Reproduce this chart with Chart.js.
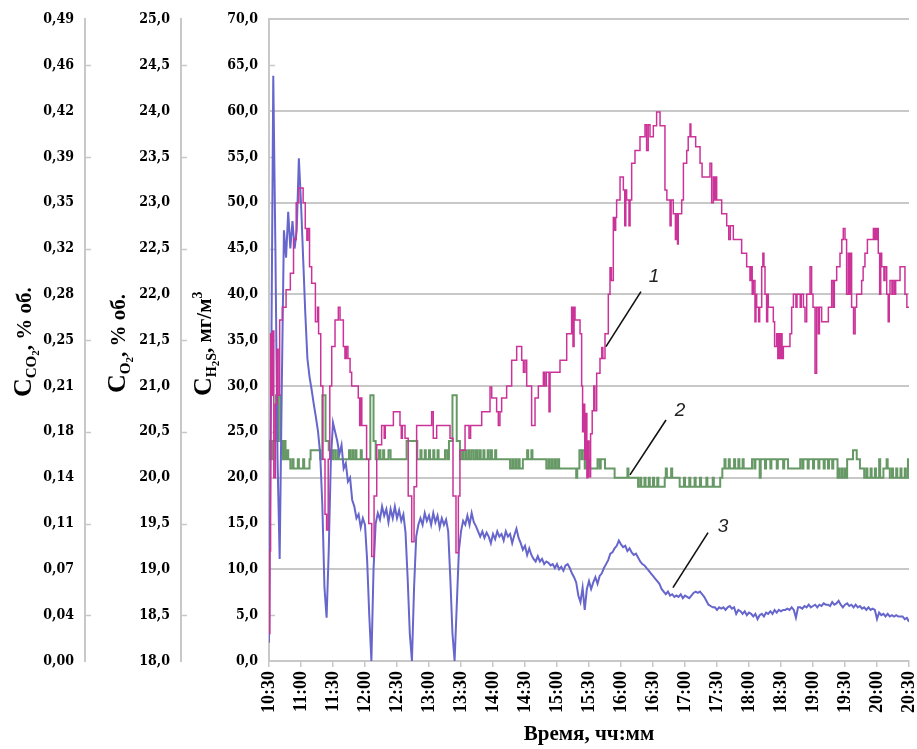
<!DOCTYPE html>
<html>
<head>
<meta charset="utf-8">
<script src="https://cdn.jsdelivr.net/npm/chart.js@4.4.0/dist/chart.umd.min.js"></script>
<style>
  body { margin: 0; background: #fff; }
  #wrap { width: 917px; height: 749px; }
</style>
</head>
<body>
<div id="wrap"><canvas id="chart" width="917" height="749"></canvas></div>
<script>
// time axis: minutes after 10:30
const xTickLabels = ["10:30", "11:00", "11:30", "12:00", "12:30", "13:00", "13:30", "14:00", "14:30", "15:00",
  "15:30", "16:00", "16:30", "17:00", "17:30", "18:00", "18:30", "19:00", "19:30", "20:00", "20:30"];

const co2TickLabels = ["0,00", "0,04", "0,07", "0,11", "0,14", "0,18", "0,21", "0,25", "0,28", "0,32", "0,35", "0,39", "0,42", "0,46", "0,49"];
const o2TickLabels = ["18,0", "18,5", "19,0", "19,5", "20,0", "20,5", "21,0", "21,5", "22,0", "22,5", "23,0", "23,5", "24,0", "24,5", "25,0"];
const h2sTickLabels = ["0,0", "5,0", "10,0", "15,0", "20,0", "25,0", "30,0", "35,0", "40,0", "45,0", "50,0", "55,0", "60,0", "65,0", "70,0"];

// curve 1: H2S, mg/m3 -- [minute, value] where the reading steps to the value
const h2sSteps = [
  [0,3],[0.8,12],[1.5,35.7],[2.5,29],[3.5,36],[4.5,20],[6,28],[7.5,34],[8.5,29],[10,37.2],[12.5,38.6],[16,40.5],[20,42.3],[23,46],[25.5,50],
  [28,51.6],[32,50],[34,47.2],[35.5,45.9],[36.5,47.2],[38,43],[40,41.2],[43.5,37],[45.5,38.6],[46.5,35.7],[48.5,30],[50.5,22],[52.5,16],[54,14.3],
  [55.5,22],[57,30],[58.8,34.3],[61.9,37.2],[65,38.6],[66.6,37.2],[69.7,34.3],[71.2,33],[72.5,34.3],[74,33],[76,31.5],[77.5,30],[83.7,28.7],
  [85,25.7],[86,28.7],[87,25.7],[91.5,22],[93.5,15],[96.3,11.4],[98.5,18],[101,23.6],[105.6,25.7],[108,24.3],[109,25.7],[116.6,27.2],
  [122.8,25.7],[124,24.3],[125,25.7],[127.5,24.3],[130.5,18],[133.8,13],[136,19],[138.4,25.7],[152.5,27.2],[154,24.3],[157.2,25.7],
  [169.7,24.3],[172.5,18],[175.3,11.8],[177.5,18],[179,23],[183.8,25.7],[187.5,24.3],[189,25.7],[199.4,27.2],[207.2,29.9],[208.8,28.7],
  [213.4,27.2],[215,25.7],[216.5,27.2],[218.1,28.7],[222.8,30],[227.5,32.8],[232.2,34.3],[236.9,32.8],[238.5,31.5],[240,32.8],[241.6,30],
  [246.2,25.7],[249.4,28.7],[252.5,30],[257.2,31.5],[258.5,30],[260,31.5],[262.5,27.2],[263.5,31.5],[272.8,32.8],[279.1,35.7],[283.7,38.6],
  [285,34.3],[286,38.6],[286.9,37.2],[291.6,35.7],[293.1,30],[294,25],[295,28],[296,22],[297,27],[298,20],[299,24],[300,20.1],[301.5,24.8],
  [303,27.3],[304.5,30],[305.5,27.3],[307.2,31.4],[310.3,33],[312,34.2],[313,33],[315,35.7],[318.1,40],[319.7,42.9],[321,41.5],[322.8,48.4],
  [324,47],[325,48.4],[325.9,50.3],[329.1,52.8],[332.2,51.4],[333.5,47.5],[334.5,51.4],[335.3,50.3],[337.5,47.5],[338.5,50.3],[340,54.3],
  [343.1,55.7],[347.8,57.2],[352.5,58.5],[354,55.7],[355.5,58.5],[357.2,57.2],[360.3,58.4],[363.4,59.9],[366.6,58.4],[371.2,51.4],[373,50.3],
  [376,47.5],[377,50.3],[379,48.8],[381,46],[382,48.8],[383,45.5],[383.7,48.8],[386.9,50.3],[388.5,54.3],[391.6,55.7],[393,57.2],[394.7,58.6],
  [395.5,57.2],[400,56.1],[404.1,54.3],[406,52.8],[413.4,54.3],[415,50],[416.6,52.8],[418,50.3],[419,52.8],[419.7,50.3],[424.4,48.8],
  [429.1,47.5],[431,46],[432.5,47.5],[435.3,46],[443.1,44.5],[447.8,43],[450.9,41.5],[452,43],[453,40],[454.1,41.5],[455.6,37],[456.5,40],
  [457.2,38.6],[459,37],[460,38.6],[461.9,43],[463,44.5],[464,43],[465,40],[466.5,37],[467.5,40],[468.1,38.6],[472.8,37],[474,34.3],
  [475.9,35.7],[477,33],[478,35.7],[479,33],[480,35.7],[481,33],[482.2,34.3],[488.4,35.7],[490,38.6],[491.6,40],[494,38.6],[495,40],
  [498,38.6],[499,40],[501,38.6],[502.5,37],[504.1,40],[507.2,43],[508.7,40],[510,38.6],[511.9,31.4],[513.4,38.6],[515,35.7],[516,38.6],
  [518.1,37],[524.4,38.6],[527.5,41.5],[529,38.6],[530,41.5],[532.2,43],[535.3,44.5],[537,46],[538.4,47.2],[540,46],[541.5,40],[543.1,44.5],
  [544.5,40],[545.5,44.5],[546.2,38.6],[548,35.7],[549.5,38.6],[550.9,40],[555.6,41.5],[557,43],[558.7,44.5],[561,46],[566.6,47.2],[567.5,46],
  [568.5,47.2],[569.5,46],[570.5,47.2],[571.2,44.5],[572.5,40],[573.5,44.5],[574.4,43],[576.5,41.5],[577.5,43],[579.1,40],[580.5,37],
  [581.5,40],[582.2,41.5],[584,40],[585,41.5],[586.5,40],[587.5,41.5],[591.6,43],[596.2,40],[598,38.6],[600,38.6]
];

// curve 2: O2, % vol -- [minute, value]
const o2Steps = [
  [0,20.2],[1,20.4],[2,20.2],[3,20.4],[6.5,20.9],[8,20.4],[9,20.9],[11,20.4],[13,20.2],[14,20.4],[15.5,20.2],[16.5,20.3],[18,20.2],[20,20.1],
  [22,20.2],[23,20.1],[27,20.2],[28,20.1],[32,20.2],[33,20.1],[38,20.2],[39,20.3],[48,20.2],[50,20.9],[53,20.4],[56,20.3],[58,20.2],
  [60,20.3],[62,20.2],[64,20.3],[65,20.2],[75,20.3],[76,20.2],[78,20.3],[79,20.2],[81,20.3],[82,20.2],[86,20.3],[87,20.2],[95,20.9],[98,20.4],
  [100,20.2],[103,20.3],[104.5,20.2],[107,20.3],[108,20.2],[112,20.3],[114,20.2],[129,20.4],[139,20.2],[142,20.3],[143,20.2],[146,20.3],
  [147,20.2],[150,20.3],[151,20.2],[154,20.3],[155,20.2],[158,20.3],[159,20.2],[165,20.3],[167,20.2],[168.7,20.4],[172,20.9],[176,20.4],
  [179,20.2],[181,20.3],[182,20.2],[184,20.3],[185,20.2],[187,20.3],[188,20.2],[190,20.3],[192,20.2],[194,20.3],[195,20.2],[197,20.3],
  [198.5,20.2],[201,20.3],[202,20.2],[205,20.3],[206,20.2],[208,20.3],[209,20.2],[212,20.3],[213,20.2],[226,20.1],[228,20.2],[229,20.1],
  [231,20.2],[232,20.1],[234,20.2],[235,20.1],[238,20.2],[242,20.3],[243,20.2],[246,20.3],[247,20.2],[260,20.1],[262,20.2],[263,20.1],
  [265,20.2],[266,20.1],[268,20.2],[269,20.1],[271,20.2],[272,20.1],[288,20.0],[289,20.1],[291,20.3],[293,20.2],[294,20.3],[296,20.1],
  [297,20.3],[299,20.2],[301,20.1],[308,20.2],[310,20.1],[311,20.2],[315,20.1],[324,20.0],[336,20.1],[337,20.0],[346,19.9],[348,20.0],
  [349,19.9],[352,20.0],[353,19.9],[356,20.0],[357,19.9],[360,20.0],[361,19.9],[364,20.0],[365,19.9],[371,20.0],[372,20.1],[373,20.0],
  [377,20.1],[378,20.0],[385,19.9],[389,20.0],[390,19.9],[394,20.0],[395,19.9],[399,20.0],[400,19.9],[404,20.0],[405,19.9],[410,20.0],
  [411,19.9],[416,20.0],[417,19.9],[423,20.0],[425,20.1],[427,20.2],[428,20.1],[431,20.2],[432,20.1],[436,20.2],[437,20.1],[440,20.2],
  [441,20.1],[444,20.2],[445,20.1],[452.8,20.2],[455,20.1],[456,20.2],[460,20.0],[461,20.2],[465,20.1],[466,20.2],[470,20.1],[471,20.2],
  [476,20.1],[477,20.2],[482,20.1],[483,20.2],[486.6,20.1],[498,20.2],[500,20.1],[501,20.2],[505,20.1],[506,20.2],[510,20.1],[511,20.2],
  [515,20.1],[516,20.2],[520,20.1],[521,20.2],[524,20.1],[525,20.2],[528,20.1],[529,20.2],[533,20.0],[534,20.1],[535,20.0],[537,20.1],
  [538,20.0],[540,20.1],[541,20.0],[542,20.2],[547.5,20.3],[551,20.2],[554,20.1],[558,20.0],[560,20.1],[561,20.0],[564,20.1],[565,20.0],
  [568,20.1],[569,20.0],[572,20.2],[573,20.0],[576,20.1],[579,20.2],[580,20.1],[582,20.0],[584,20.1],[585,20.0],[588,20.1],[589,20.0],
  [592,20.1],[593,20.0],[596,20.1],[597,20.0],[599,20.2],[600,20.1]
];

// curve 3: CO2, % vol -- one reading every 2 minutes from 10:30
const co2Step = 2;
const co2Values = [
  0.014,0.210,0.447,0.315,0.154,0.078,0.210,0.329,0.308,0.343,
  0.315,0.336,0.315,0.329,0.384,0.350,0.308,0.266,0.231,0.217,
  0.207,0.196,0.186,0.175,0.158,0.119,0.056,0.033,0.084,0.154,
  0.182,0.175,0.168,0.158,0.165,0.147,0.151,0.137,0.140,0.123,
  0.118,0.109,0.112,0.102,0.109,0.104,0.077,0.035,0.000,0.070,
  0.105,0.113,0.108,0.118,0.111,0.116,0.106,0.116,0.109,0.118,
  0.109,0.115,0.107,0.112,0.098,0.063,0.021,0.000,0.056,0.095,
  0.104,0.109,0.104,0.113,0.107,0.111,0.104,0.113,0.106,0.111,
  0.102,0.109,0.104,0.108,0.099,0.063,0.021,0.000,0.042,0.084,
  0.099,0.107,0.104,0.111,0.104,0.113,0.106,0.103,0.099,0.095,
  0.099,0.094,0.098,0.095,0.090,0.097,0.093,0.099,0.095,0.097,
  0.092,0.099,0.095,0.097,0.090,0.096,0.101,0.094,0.090,0.085,
  0.088,0.081,0.086,0.081,0.078,0.076,0.080,0.076,0.078,0.074,
  0.076,0.075,0.073,0.074,0.071,0.074,0.070,0.072,0.069,0.073,
  0.074,0.071,0.067,0.064,0.060,0.050,0.045,0.056,0.039,0.055,
  0.061,0.055,0.060,0.064,0.059,0.065,0.067,0.071,0.074,0.077,
  0.082,0.083,0.086,0.088,0.092,0.089,0.087,0.088,0.084,0.086,
  0.083,0.081,0.082,0.079,0.076,0.074,0.073,0.071,0.069,0.067,
  0.065,0.063,0.061,0.059,0.055,0.053,0.051,0.053,0.050,0.051,
  0.049,0.050,0.049,0.051,0.048,0.050,0.049,0.048,0.050,0.052,
  0.053,0.052,0.053,0.051,0.049,0.046,0.043,0.042,0.041,0.041,
  0.039,0.041,0.040,0.041,0.039,0.041,0.042,0.040,0.041,0.036,
  0.039,0.038,0.036,0.038,0.035,0.037,0.036,0.034,0.036,0.032,
  0.035,0.036,0.034,0.037,0.036,0.038,0.036,0.039,0.037,0.039,
  0.038,0.039,0.039,0.040,0.039,0.041,0.039,0.033,0.041,0.041,
  0.040,0.042,0.041,0.043,0.041,0.042,0.043,0.041,0.043,0.042,
  0.044,0.043,0.043,0.042,0.045,0.043,0.044,0.046,0.043,0.041,
  0.043,0.044,0.042,0.043,0.041,0.043,0.041,0.042,0.040,0.041,
  0.039,0.041,0.039,0.040,0.039,0.032,0.037,0.035,0.036,0.034,
  0.036,0.034,0.035,0.034,0.035,0.034,0.034,0.034,0.032,0.033,
  0.030
];

// curve numbers with leader lines, in (minute, H2S-scale) units
const calloutLabels = ["1", "2", "3"];
const calloutText = [[361, 41.9], [385.3, 27.3], [425.6, 14.6]];
const calloutFrom = [[348.7, 40.3], [372.2, 26.3], [411.6, 14.0]];
const calloutTo = [[315.9, 34.3], [338.4, 20.3], [378.7, 8.0]];

const GRID = "#c8c8c8";
const NUM_FONT = '"DejaVu Serif Condensed", "Liberation Serif", serif';
const SERIF = '"Liberation Serif", serif';

function fixedTicks(labels, min, max) {
  return (scale) => {
    scale.ticks = labels.map((_, i) => ({ value: min + i * (max - min) / (labels.length - 1) }));
  };
}

function yAxis(labels, min, max, width, weight, grid) {
  return {
    type: "linear",
    position: "left",
    min: min,
    max: max,
    weight: weight,
    afterBuildTicks: fixedTicks(labels, min, max),
    afterFit: (s) => { s.width = width; },
    ticks: {
      autoSkip: false,
      padding: 11,
      color: "#000",
      font: { family: NUM_FONT, size: 14, weight: "bold" },
      callback: (v, i) => labels[i]
    },
    grid: grid ? {
      drawTicks: false,
      lineWidth: 2,
      color: (c) => (c.index % 2 === 0 ? GRID : "rgba(0,0,0,0)")
    } : { display: false, drawTicks: false },
    border: { display: true, color: GRID, width: 2 }
  };
}

// subscripted axis titles, minor tick marks and the curve callouts
const decor = {
  id: "decor",
  beforeDatasetsDraw(chart) {
    const ctx = chart.ctx;
    ctx.save();
    ctx.strokeStyle = GRID;
    ctx.lineWidth = 1.5;
    ["yCO2", "yO2", "yH2S"].forEach((id) => {
      const s = chart.scales[id];
      s.ticks.forEach((tk, i) => {
        if (i % 2 === 1) {
          const py = Math.round(s.getPixelForValue(tk.value)) + 0.5;
          ctx.beginPath();
          ctx.moveTo(s.right, py);
          ctx.lineTo(s.right + 6, py);
          ctx.stroke();
        }
      });
    });
    ctx.restore();
  },
  afterDraw(chart) {
    const ctx = chart.ctx;
    const sx = chart.scales.x;
    const sy = chart.scales.yH2S;

    const titles = [
      { x: 31, y: 397, runs: [["C", 26, 0], ["CO", 15, 5], ["2", 11, 8], [", % об.", 21, 0]] },
      { x: 125, y: 393, runs: [["C", 26, 0], ["O", 15, 5], ["2", 11, 8], [", % об.", 21, 0]] },
      { x: 211, y: 396, runs: [["C", 26, 0], ["H", 14, 5], ["2", 11, 8], ["S", 14, 5], [", мг/м", 21, 0], ["3", 14, -9]] }
    ];
    ctx.save();
    ctx.fillStyle = "#000";
    ctx.textBaseline = "alphabetic";
    ctx.textAlign = "left";
    titles.forEach((t) => {
      ctx.save();
      ctx.translate(t.x, t.y);
      ctx.rotate(-Math.PI / 2);
      let cx = 0;
      t.runs.forEach(([txt, size, dy]) => {
        ctx.font = "bold " + size + "px " + SERIF;
        ctx.fillText(txt, cx, dy);
        cx += ctx.measureText(txt).width;
      });
      ctx.restore();
    });

    ctx.strokeStyle = "#111";
    ctx.lineWidth = 1.6;
    ctx.fillStyle = "#222";
    ctx.font = 'italic 19px "Liberation Sans", sans-serif';
    ctx.textAlign = "center";
    ctx.textBaseline = "middle";
    calloutLabels.forEach((lab, i) => {
      ctx.beginPath();
      ctx.moveTo(sx.getPixelForValue(calloutFrom[i][0]), sy.getPixelForValue(calloutFrom[i][1]));
      ctx.lineTo(sx.getPixelForValue(calloutTo[i][0]), sy.getPixelForValue(calloutTo[i][1]));
      ctx.stroke();
      ctx.fillText(lab, sx.getPixelForValue(calloutText[i][0]), sy.getPixelForValue(calloutText[i][1]));
    });
    ctx.restore();
  }
};

new Chart(document.getElementById("chart"), {
  type: "line",
  data: {
    datasets: [
      {
        label: "H2S",
        data: h2sSteps.map(([t, v]) => ({ x: t, y: v })),
        yAxisID: "yH2S",
        borderColor: "#cc3399",
        borderWidth: 1.5,
        pointRadius: 0,
        stepped: "before",
        order: 0
      },
      {
        label: "CO2",
        data: co2Values.map((v, i) => ({ x: i * co2Step, y: v })),
        yAxisID: "yCO2",
        borderColor: "#6666cc",
        borderWidth: 2,
        pointRadius: 0,
        order: 1
      },
      {
        label: "O2",
        data: o2Steps.map(([t, v]) => ({ x: t, y: v })),
        yAxisID: "yO2",
        borderColor: "#669966",
        borderWidth: 2,
        pointRadius: 0,
        stepped: "before",
        order: 2
      }
    ]
  },
  options: {
    responsive: false,
    animation: false,
    devicePixelRatio: 1,
    layout: { padding: { left: 0, right: 8, top: 19, bottom: 0 } },
    plugins: {
      legend: { display: false },
      tooltip: { enabled: false }
    },
    scales: {
      x: {
        type: "linear",
        min: 0,
        max: 600,
        afterBuildTicks: (s) => { s.ticks = xTickLabels.map((_, i) => ({ value: i * 30 })); },
        afterFit: (s) => { s.height = 88; s.paddingLeft = 0; s.paddingRight = 0; },
        ticks: {
          autoSkip: false,
          minRotation: 90,
          maxRotation: 90,
          padding: 4,
          color: "#000",
          font: { family: SERIF, size: 18, weight: "bold" },
          callback: (v, i) => xTickLabels[i]
        },
        grid: { drawOnChartArea: false, tickLength: 6, color: GRID, lineWidth: 1.5 },
        border: { color: GRID, width: 2 },
        title: {
          display: true,
          text: "Время, чч:мм",
          color: "#000",
          font: { family: SERIF, size: 21, weight: "bold" },
          padding: { top: 0, bottom: 2 }
        }
      },
      yCO2: yAxis(co2TickLabels, 0, 0.49, 85, 3, false),
      yO2: yAxis(o2TickLabels, 18, 25, 96, 2, false),
      yH2S: yAxis(h2sTickLabels, 0, 70, 88, 1, true)
    }
  },
  plugins: [decor]
});
</script>
</body>
</html>
